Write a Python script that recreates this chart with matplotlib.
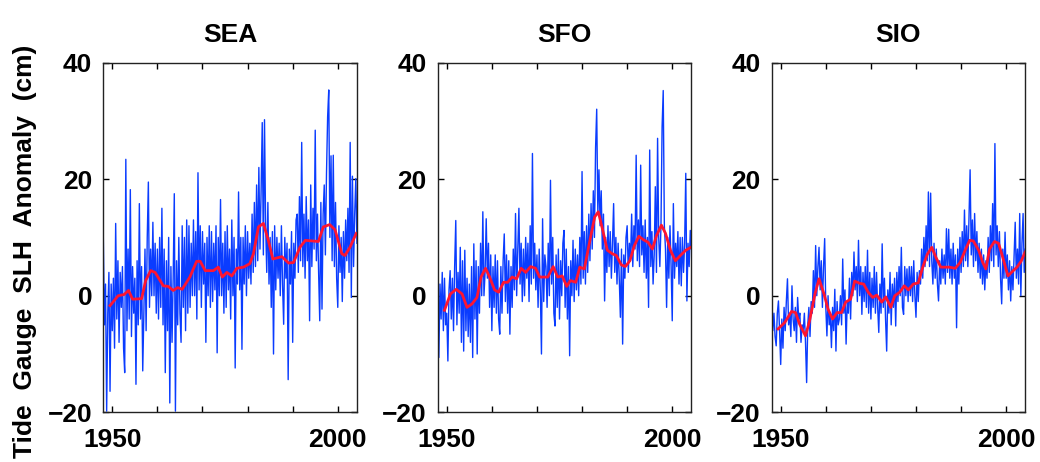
import numpy as np
import matplotlib
matplotlib.use('Agg')
import matplotlib.pyplot as plt

# Monthly tide gauge anomalies at quarter-year steps from 1948.0 (cm)
sea_blue = [
    10.5, -5, 2, -19.8,   -3, 4, -16.4, 2,
    -6, 3, -9, 12.4,      -4, 6, -8, 4,
    -2, 5, -9, -13.2,     23.4, -6, 8, -4,
    18.2, -7, 5, -3,      3, -15.2, 6, -5,
    15.8, -4, 5, -12.9,   -3, 8, -6, 10,
    19.5, -2, 8, 0,       12.6, 0, 9, -3,
    8, -4, 10, -2,        15, -5, 8, -13.2,
    6, -6, 10, -18.4,     5, -8, 3, 17.5,
    -19.8, 6, -5, 10,     -3, -8, 12, -2,
    10, -6, 13, -3,       12, -2, 9, 0,
    13, 0, 11, -4,        21.1, 1, 12, -2,
    11, 2, 9, -8,         10, 0, 12, -2,
    11, -1, 9, 1,         12, -9.8, 10, 0,
    16.5, 0, 9, -3,       11, -2, 12, 1,
    8, -4, 13, 0,         10, -12.4, 8, 2,
    17.8, 1, 10, -9.2,    10, 2, 12, 0,
    11, 3, 9, 2,          14, 4, 16, 5,
    19, 6, 22, 8,         18, 29.7, 7, 30.2,
    12, 4, 16, 2,         10, -2, 11, -10,
    12, 1, 10, 3,         9, 0, 12, 2,
    -4.9, 10, 3, 9,       -14.4, 8, 2, 11,
    -8, 9, 3, 13,         14, 4, 17, 6,
    26.3, 5, 14, 3,       17, 6, 13, -4.3,
    19, 5, 15, 8,         28.4, 6, 14, 4,
    -4.3, 16, -2.3, 14,   19, 7, 21, 30.7,
    35.3, 10, 24, 6,      24.1, 5, 16, 3,
    -2, 12, 4, 10,        -1, 11, 3, 13,
    6, 15, 4, 26.3,       -0.3, 20.5, 5, 14,
    20.1, 9,
]
sfo_blue = [
    3.2, -10.6, 2, -4,    4, -6, 3, -5,
    -3, -11.2, 1, 4.3,    -4, 3, -6, 5,
    12.9, -5, 4, -3,      8.3, -8, 6, -9.5,
    7.8, -6, 3, -7,       2, -8, 5, -10.6,
    8.9, -4, 6, -10,      5, -3, 9, 0,
    14.4, 0, 4, 13.2,     3, 9, -2, 7,
    -6, 5, -2, 7,         -3, 6, -4, -6.6,
    5, -3, 6, 10.6,       -1, 7, -3, 6,
    -6.6, 5, -2, 8,       1, 14.1, 0, 8,
    15, 2, 9, -1,         8, 0, 10, 3,
    9, -1, 12, 2,         24.4, 3, 9, 1,
    7, -2, 8, 1,          -10, 13.2, -1, 7,
    5, -2, 9, 0,          19.8, 2, 10, -3,
    -5.2, 7, -2, 8,       -4, 6, 0, 9,
    11.2, -2, 8, -4,      5, -10.3, 6, 0,
    9.5, -1, 8, 1,        7, 0, 10, 2,
    21.3, 3, 11, 2,       12, 4, 14, 6,
    15.8, 8, 18, 10,      25.4, 32, 14, 21.6,
    12, 18, 8, 14,        -0.9, 10, 4, 12,
    5, 11, 3, 9,          15.8, 4, 10, 2,
    9, 3, -3.7, 8,        -8.3, 7, 3, 10,
    12, 4, 9, 6,          14, 5, 12, 8,
    24.1, 6, 13, 5,       22.4, 7, 12, 4,
    13, 3, 10, -2,        25, 5, 11, 2,
    7, 18.7, 4, 27,       10, 5, 12, 29,
    35.2, 12, 8, -2,      10, 3, 12, 5,
    -4.3, 15.8, 3, 9,     5, 11, 2, 10,
    1.7, 10, 4, 9,        21, -0.9, 9, 5,
    11.2, 8,
]
sio_blue = [
    -4, -6, -3, -7,       -8.6, -3, -0.9, -6,
    -11.8, -4, -9, -2,    -6, -1, 2.9, -5,
    -3, -7, 1.7, -4,      -6, -2, -8, -0.3,
    -4, -3, -8, -5,       -6, -3, -8, -14.9,
    -5, -2, -7, -1,       -3, 4.3, -2, 8.6,
    0, 5, 8.3, 1,         6, -2, 5, 9.8,
    -2, -6.9, 0, -5,      -3, -8.9, -2, -6,
    1.1, -9.5, -1, -5,    -4, 0, -5, 6.3,
    -3, 1, -8.3, -1,      -3, 3, -4, 4,
    0, 7.5, 1, 5,         -1, 9.5, 0, 5,
    -3.2, 4, -1, 5,       -2, 7.8, -3, 4,
    -4, 3, -2, 5,         -3, 4, -2, -6.3,
    2, -3, 8.9, -2,       3, -4, -9.5, 1,
    -3, 4.0, -5, 2,       -2, 3, -5.2, 4,
    -1, 5, 0, 8.3,        -2, -3.2, 5, 0,
    4.6, -1, 5, 0,        5, -1, 6, 0,
    -3.7, 4, -1, 4.3,     2, 8, 3, 10,
    5, 12, 6, 17.8,       5, 17.6, 6, 2,
    9, 3, 8, 2,           -0.9, 6, 2, 8,
    3, 7, 2, 11.5,        4, 11.4, 3, 8,
    2, 9, 3, 7,           -5.5, 8, 2, 10,
    4, 11, 5, 14.7,       6, 12, 5, 13,
    21.6, 7, 13, 5,       14.1, 6, 11, 4,
    9, 3, 8, 2,           7, 1, 6, 3,
    10, 4, 12, 6,         15.8, 5, 26.1, 7,
    12, 5, 11, 3,         -1.4, 8, 3, 10.9,
    3, 7, 1, 6,           -0.9, 5, 1, 7,
    12.6, 3, 8, 2,        14.1, 0, 9, 14.1,
    4, 8,
]

# smoothed curves (red)
sea_red_t = [1949.5, 1951.3, 1952.6, 1953.6, 1954.5, 1956.5, 1957.4, 1958.5, 1959.5, 1961.3,
             1962.4, 1963.5, 1964.5, 1965.5, 1967.2, 1968.7, 1969.5, 1970.6, 1972.4, 1973.5,
             1974.4, 1975.4, 1976.5, 1977.6, 1979.1, 1980.5, 1981.3, 1982.4, 1983.5, 1984.6,
             1985.6, 1987.6, 1989.1, 1990.2, 1991.6, 1992.8, 1995.7, 1996.8, 1998.2, 1999.4,
             2000.9, 2001.6, 2002.7, 2004.1]
sea_red_v = [-1.7, 0, 0.2, 0.9, -0.6, -0.5, 2.6, 4.3, 4.0, 1.7,
             1.6, 0.9, 1.4, 1.1, 3.2, 5.9, 5.9, 4.3, 4.3, 4.9,
             3.2, 4.0, 3.4, 4.7, 4.9, 5.5, 7.2, 11.8, 12.4, 9.5,
             6.3, 6.7, 5.6, 5.7, 8.3, 9.5, 9.3, 11.8, 12.2, 11.3,
             7.2, 6.9, 8.3, 10.7]
sfo_red_t = [1949.5, 1950.8, 1952.1, 1953.4, 1954.5, 1955.6, 1956.7, 1957.6, 1958.6, 1959.5,
             1960.6, 1961.5, 1962.6, 1963.5, 1964.5, 1965.5, 1966.5, 1967.5, 1968.6, 1969.7,
             1970.6, 1972.4, 1973.6, 1974.6, 1975.6, 1976.6, 1977.4, 1978.6, 1979.5, 1980.5,
             1981.9, 1982.8, 1983.6, 1984.6, 1985.6, 1986.7, 1987.6, 1988.7, 1989.6, 1990.6,
             1991.6, 1992.6, 1993.6, 1994.6, 1995.6, 1996.5, 1997.6, 1998.5, 1999.6, 2000.7,
             2001.8, 2003.0, 2004.1]
sfo_red_v = [-2.5, 0.3, 1.1, 0.3, -2.0, -1.4, -0.3, 3.2, 4.7, 3.2,
             1.0, 0.6, 2.3, 2.3, 3.2, 2.9, 4.7, 4.0, 5.0, 4.7,
             3.2, 3.2, 5.0, 3.2, 3.4, 1.6, 2.6, 2.3, 4.9, 4.6,
             10.1, 13.5, 14.4, 11.2, 7.8, 7.2, 6.9, 5.3, 5.0, 6.0,
             8.6, 10.2, 9.6, 9.2, 8.0, 10.3, 12.1, 10.7, 7.8, 6.0,
             6.9, 7.8, 8.3]
sio_red_t = [1949.4, 1950.9, 1952.4, 1953.3, 1954.2, 1955.5, 1956.4, 1957.6, 1958.5, 1959.6,
             1960.5, 1961.5, 1962.5, 1963.5, 1964.4, 1965.5, 1966.4, 1967.6, 1968.4, 1969.4,
             1970.4, 1971.3, 1972.4, 1973.3, 1974.4, 1975.3, 1976.4, 1977.4, 1978.3, 1979.4,
             1980.5, 1981.5, 1982.5, 1983.5, 1984.4, 1985.5, 1987.4, 1988.7, 1989.8, 1990.9,
             1991.9, 1992.7, 1993.9, 1994.8, 1995.5, 1996.3, 1997.4, 1998.3, 1999.0, 2000.4,
             2001.3, 2002.4, 2003.3, 2004.2]
sio_red_v = [-5.7, -4.6, -2.7, -2.9, -4.9, -6.9, -4.3, 0.3, 2.9, 0.3,
             -2.3, -4.0, -2.9, -2.9, -1.1, -0.6, 2.5, 2.1, 2.0, 0.6,
             -0.3, 0.1, -1.1, -0.2, -2.0, 0, 0.6, 1.7, 1.0, 2.0,
             2.2, 4.9, 7.1, 8.3, 6.6, 4.9, 4.9, 4.7, 5.7, 7.8,
             9.5, 9.4, 7.8, 5.7, 4.6, 8.0, 9.3, 9.0, 7.2, 3.4,
             4.1, 4.9, 5.9, 7.5]

stations = ['SEA', 'SFO', 'SIO']
blue_series = [sea_blue, sfo_blue, sio_blue]
red_series = [(sea_red_t, sea_red_v), (sfo_red_t, sfo_red_v), (sio_red_t, sio_red_v)]

plt.rcParams['font.family'] = ['Liberation Sans', 'DejaVu Sans']
plt.rcParams['font.weight'] = 'bold'

fig = plt.figure(figsize=(10.4, 4.62), dpi=100)
lefts = [0.0993, 0.4209, 0.742]

for i in range(3):
    ax = fig.add_axes([lefts[i], 0.1076, 0.2437, 0.757])
    blue = blue_series[i]
    t = 1948 + 0.25 * np.arange(len(blue))
    ax.plot(t, blue, color='#0a3cff', lw=1.0)
    ax.plot(red_series[i][0], red_series[i][1], color='#ff1530', lw=2.0)
    ax.set_xlim(1948, 2004.2)
    ax.set_ylim(-20, 40)
    ax.set_xticks(range(1950, 2001, 10))
    ax.set_xticklabels(['1950', '', '', '', '', '2000'])
    ax.set_yticks([-20, 0, 20, 40])
    ax.tick_params(direction='in', length=4, width=1, top=True, right=True, labelsize=19)
    ax.tick_params(axis='x', pad=11)
    ax.tick_params(axis='y', pad=8)
    for s in ax.spines.values():
        s.set_linewidth(1)
        s.set_color('#222222')
    ax.set_title(stations[i], fontsize=19, fontweight='bold', pad=15)

fig.text(0.024, 0.455, 'Tide  Gauge  SLH  Anomaly  (cm)', rotation=90,
         ha='center', va='center', fontsize=19, fontweight='bold')

fig.savefig('out.png', dpi=100)
